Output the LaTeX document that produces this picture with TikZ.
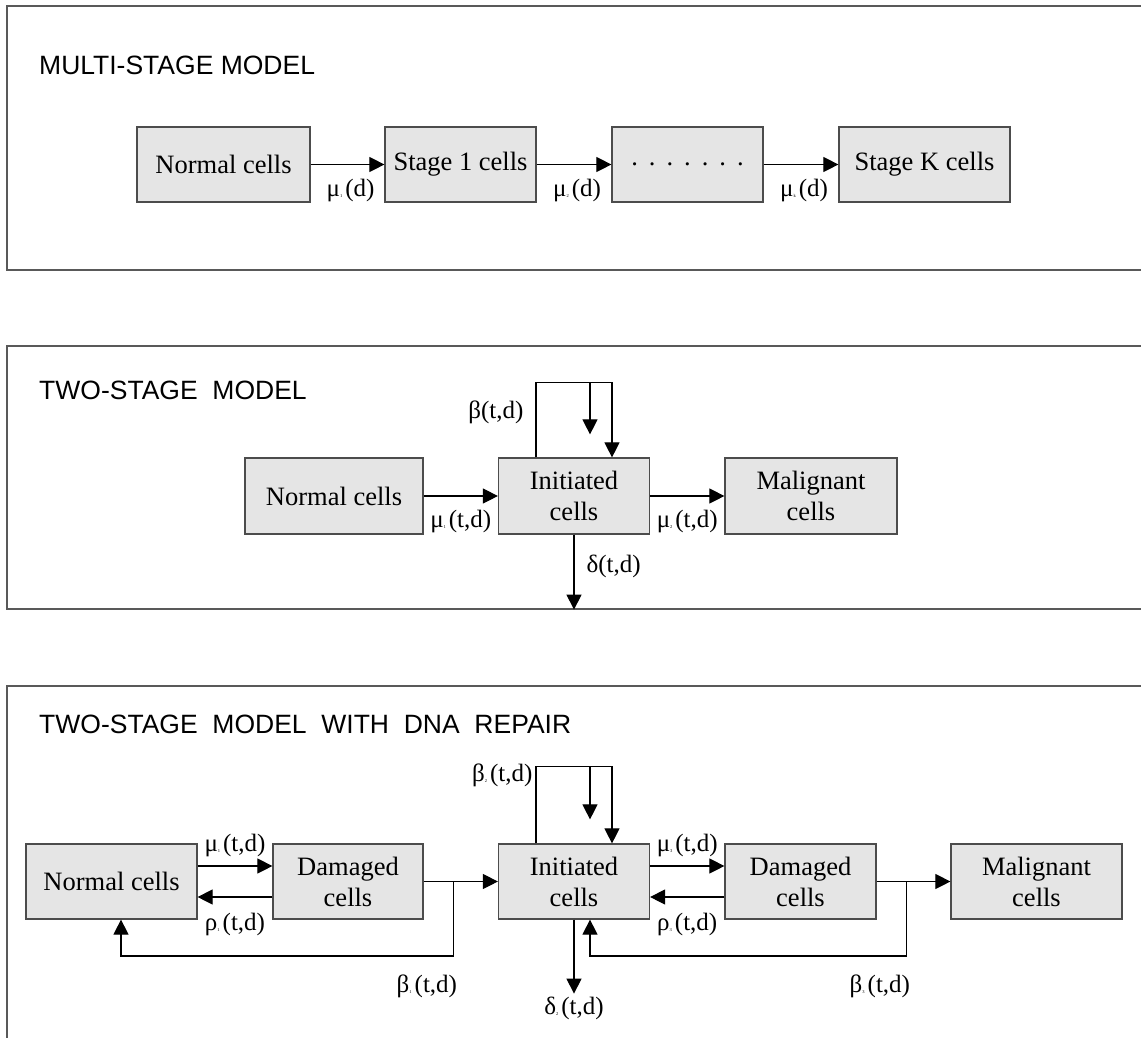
\documentclass[tikz,border=0pt]{standalone}
\usepackage{fontspec}
\setmainfont{Liberation Serif}
\newfontfamily\headfont{Liberation Sans}
\usepackage{tikz}
\usetikzlibrary{positioning,arrows.meta,calc}

\newcommand{\idx}[1]{\raisebox{-1pt}{\fontsize{4.5}{5}\selectfont#1}\hspace{3pt}}

\begin{document}
\begin{tikzpicture}[
    x=1pt, y=-1pt,
    box/.style={draw=black!70, line width=1.2pt, fill=black!10, align=center,
                inner sep=0pt, minimum height=75pt, font=\fontsize{26.5}{31}\selectfont},
    arr/.style={-{Triangle[length=15pt,width=15pt]}, line width=1.1pt},
    lbl/.style={inner sep=2pt, font=\fontsize{25}{28}\selectfont},
    heading/.style={anchor=west, inner sep=0pt, font=\headfont\fontsize{26.5}{30}\selectfont},
    panel/.style={draw=black!65, line width=1.6pt},
  ]
  \useasboundingbox (0,0) rectangle (1141,1037);
  \clip (0,0) rectangle (1141,1037);

  % multi-stage model
  \draw[panel] (7,6) rectangle (1170,270);
  \node[heading] (head1) at (39,65) {MULTI-STAGE MODEL};
  \node[box, minimum width=173pt] (norm1) at (223.5,164.5) {Normal cells};
  \node[box, minimum width=151pt] (stage1) at (460.5,164.5) {Stage 1 cells};
  \node[box, minimum width=151pt] (dots1) at (687.5,164.5)
    {.\hspace{11pt}.\hspace{11pt}.\hspace{11pt}.\hspace{11pt}.\hspace{11pt}.\hspace{11pt}.};
  \node[box, minimum width=171pt] (stageK) at (924.5,164.5) {Stage K cells};

  \draw[arr] (norm1) -- (stage1) node[lbl, midway, below=12pt, xshift=3pt] {μ\idx{1}(d)};
  \draw[arr] (stage1) -- (dots1) node[lbl, midway, below=12pt, xshift=3pt] {μ\idx{2}(d)};
  \draw[arr] (dots1) -- (stageK) node[lbl, midway, below=12pt, xshift=3pt] {μ\idx{k}(d)};

  % two-stage model
  \draw[panel] (7,346) rectangle (1170,609);
  \node[heading] (head2) at (39,390) {TWO-STAGE\ \ MODEL};
  \node[box, minimum width=178pt, minimum height=76pt] (norm2) at (334,496) {Normal cells};
  \node[box, minimum width=151pt, minimum height=76pt] (init2) at (574,496) {Initiated\\cells};
  \node[box, minimum width=172pt, minimum height=76pt] (malig2) at (811,496) {Malignant\\cells};

  \draw[arr] (norm2) -- (init2) node[lbl, midway, below=12pt] {μ\idx{1}(t,d)};
  \draw[arr] (init2) -- (malig2) node[lbl, midway, below=12pt] {μ\idx{2}(t,d)};
  \draw[arr] ($(init2.north)+(-38,0)$) -- ++(0,-75)
    node[lbl, pos=0.6, left=10pt] {β(t,d)} -| ($(init2.north)+(38,0)$);
  \coordinate (tap2) at ($(init2.north)+(16,-75)$);
  \draw[arr] (tap2) -- ++(0,52);
  \draw[arr] (init2.south) -- ++(0,75) node[lbl, pos=0.43, right=10pt] {δ(t,d)};

  % two-stage model with DNA repair
  \draw[panel] (7,686) rectangle (1170,1080);
  \node[heading] (head3) at (39,724) {TWO-STAGE\ \ MODEL\ \ WITH\ \ DNA\ \ REPAIR};
  \node[box, minimum width=171pt] (norm3) at (111.5,881.5) {Normal cells};
  \node[box, minimum width=150pt] (dam3a) at (348,881.5) {Damaged\\cells};
  \node[box, minimum width=151pt] (init3) at (574,881.5) {Initiated\\cells};
  \node[box, minimum width=151pt] (dam3b) at (800.5,881.5) {Damaged\\cells};
  \node[box, minimum width=171pt] (malig3) at (1036.5,881.5) {Malignant\\cells};

  \draw[arr] ([yshift=15.5pt]norm3.east) -- ([yshift=15.5pt]dam3a.west)
    node[lbl, midway, above=7pt] {μ\idx{1}(t,d)};
  \draw[arr] ([yshift=-15.5pt]dam3a.west) -- ([yshift=-15.5pt]norm3.east)
    node[lbl, midway, below=14pt] {ρ\idx{1}(t,d)};
  \draw[arr] (dam3a) -- (init3);
  \coordinate (fork1) at ($(dam3a.east)+(30,0)$);
  \draw[arr] (fork1) -- ++(0,74.5)
    node[lbl, anchor=north east, xshift=6pt, yshift=-16pt] {β\idx{1}(t,d)}
    -| ($(norm3.south)+(9.5,0)$);

  \draw[arr] ($(init3.north)+(-38,0)$) -- ++(0,-77)
    node[lbl, pos=0.88, left=1pt] {β\idx{2}(t,d)} -| ($(init3.north)+(38,0)$);
  \coordinate (tap3) at ($(init3.north)+(16,-77)$);
  \draw[arr] (tap3) -- ++(0,53);
  \draw[arr] (init3.south) -- ++(0,74) node[lbl, below=1pt] {δ\idx{2}(t,d)};

  \draw[arr] ([yshift=15.5pt]init3.east) -- ([yshift=15.5pt]dam3b.west)
    node[lbl, midway, above=7pt] {μ\idx{3}(t,d)};
  \draw[arr] ([yshift=-15.5pt]dam3b.west) -- ([yshift=-15.5pt]init3.east)
    node[lbl, midway, below=14pt] {ρ\idx{3}(t,d)};
  \draw[arr] (dam3b) -- (malig3);
  \coordinate (fork3) at ($(dam3b.east)+(30,0)$);
  \draw[arr] (fork3) -- ++(0,74.5)
    node[lbl, anchor=north east, xshift=6pt, yshift=-16pt] {β\idx{3}(t,d)}
    -| ($(init3.south)+(16,0)$);
\end{tikzpicture}
\end{document}
